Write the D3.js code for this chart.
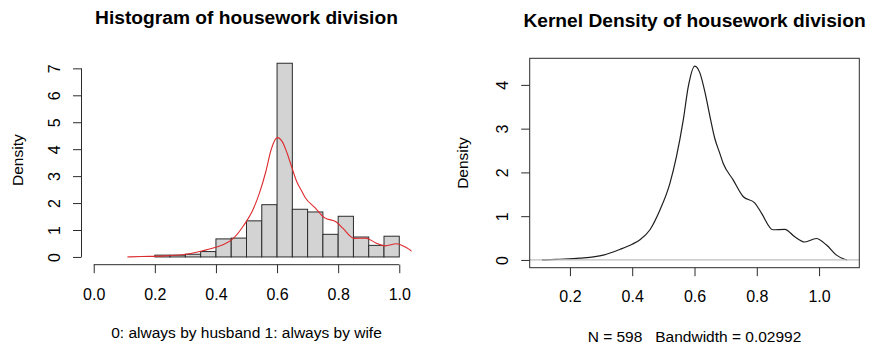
<!DOCTYPE html>
<html>
<head>
<meta charset="utf-8">
<script src="https://cdn.jsdelivr.net/npm/d3@7"></script>
<style>
  body { margin: 0; background: #fff; }
  text { font-family: Arial, "Liberation Sans", sans-serif; fill: #000; }
  .title { font-weight: bold; font-size: 19.2px; }
  .tick text { font-size: 16px; }
  .lab { font-size: 15.5px; white-space: pre; }
</style>
</head>
<body>
<script>
// histogram: break points and bar densities
const histBreaks = [0.20, 0.25, 0.30, 0.35, 0.40, 0.45, 0.50, 0.55, 0.60, 0.65, 0.70, 0.75, 0.80, 0.85, 0.90, 0.95, 1.00];
const histDensity = [0.067, 0.067, 0.10, 0.20, 0.67, 0.70, 1.34, 1.94, 7.19, 1.77, 1.67, 0.84, 1.51, 0.74, 0.43, 0.77];

// kernel density estimate
const densX = [0.11, 0.157, 0.232, 0.307, 0.36, 0.40, 0.425, 0.457, 0.489, 0.521, 0.542, 0.564, 0.580, 0.601, 0.617, 0.633, 0.649, 0.665, 0.681, 0.692, 0.724, 0.756, 0.794, 0.815, 0.852, 0.890, 0.922, 0.954, 0.991, 1.024, 1.056, 1.082, 1.09];
const densY = [0.0, 0.015, 0.04, 0.11, 0.24, 0.36, 0.46, 0.69, 1.14, 1.75, 2.36, 3.2, 3.96, 4.43, 4.28, 3.85, 3.3, 2.78, 2.44, 2.21, 1.83, 1.45, 1.30, 1.07, 0.69, 0.70, 0.53, 0.41, 0.49, 0.34, 0.11, 0.015, 0.0];

// tick labels
const histXTicks = [0.0, 0.2, 0.4, 0.6, 0.8, 1.0];
const histYTicks = [0, 1, 2, 3, 4, 5, 6, 7];
const densXTicks = [0.2, 0.4, 0.6, 0.8, 1.0];
const densYTicks = [0, 1, 2, 3, 4];

const histTitle = 'Histogram of housework division';
const histXLabel = '0: always by husband 1: always by wife';
const densTitle = 'Kernel Density of housework division';
const densXLabel = 'N = 598   Bandwidth = 0.02992';

const width = 870, height = 345;
const densPts = densX.map((x, i) => ({x: x, y: densY[i]}));

// R style 4% padding on axis ranges
const pad = ext => { const w = ext[1] - ext[0]; return [ext[0] - 0.04 * w, ext[1] + 0.04 * w]; };

const svg = d3.select('body').append('svg')
    .attr('width', width)
    .attr('height', height);

svg.append('rect').attr('width', width).attr('height', height).attr('fill', '#fff');

// panel plot regions
const left = {x0: 81.5, x1: 411.5, y0: 55.5, y1: 264.7};
const right = {x0: 529.7, x1: 859.3, y0: 58.3, y1: 267.7};

//Rotated y tick labels like R's las=0
const styleYAxis = function(g) {
    g.selectAll('.tick text')
        .attr('transform', 'rotate(-90)')
        .attr('x', 0)
        .attr('y', -21.5)
        .attr('dy', 0)
        .style('text-anchor', 'middle');
};

//---------------- Left: histogram ----------------
const xL = d3.scaleLinear().domain(pad([0, 1])).range([left.x0, left.x1]);
const yL = d3.scaleLinear().domain(pad([0, d3.max(histDensity)])).range([left.y1, left.y0]);

svg.append('clipPath').attr('id', 'clipL')
  .append('rect')
    .attr('x', left.x0).attr('y', left.y0)
    .attr('width', left.x1 - left.x0).attr('height', left.y1 - left.y0);

svg.append('g').selectAll('rect.bar')
    .data(histDensity)
    .enter()
    .append('rect')
    .attr('class', 'bar')
    .attr('x', (d, i) => xL(histBreaks[i]))
    .attr('width', (d, i) => xL(histBreaks[i + 1]) - xL(histBreaks[i]))
    .attr('y', d => yL(d))
    .attr('height', d => yL(0) - yL(d))
    .style('fill', '#d3d3d3')
    .style('stroke', '#2b2b2b')
    .style('stroke-width', 1);

svg.append('path')
    .datum(densPts)
    .attr('clip-path', 'url(#clipL)')
    .attr('fill', 'none')
    .attr('stroke', '#dc2b2e')
    .attr('stroke-width', 1.1)
    .attr('d', d3.line().x(d => xL(d.x)).y(d => yL(d.y)).curve(d3.curveMonotoneX));

const xAxisL = svg.append('g')
    .attr('transform', `translate(0, ${left.y1})`)
    .call(d3.axisBottom(xL).tickValues(histXTicks).tickFormat(d3.format('.1f')).tickSize(8.5).tickPadding(15));
xAxisL.select('.domain').remove();
xAxisL.append('line')
    .attr('x1', xL(histXTicks[0])).attr('x2', xL(histXTicks[histXTicks.length - 1]))
    .attr('stroke', '#2b2b2b');

const yAxisL = svg.append('g')
    .attr('transform', `translate(${left.x0}, 0)`)
    .call(d3.axisLeft(yL).tickValues(histYTicks).tickFormat(d3.format('d')).tickSize(8.5))
    .call(styleYAxis);
yAxisL.select('.domain').remove();
yAxisL.append('line')
    .attr('y1', yL(histYTicks[0])).attr('y2', yL(histYTicks[histYTicks.length - 1]))
    .attr('stroke', '#2b2b2b');

svg.append('text').attr('class', 'title')
    .attr('x', (left.x0 + left.x1) / 2).attr('y', 24)
    .style('text-anchor', 'middle')
    .text(histTitle);

svg.append('text').attr('class', 'lab')
    .attr('x', (left.x0 + left.x1) / 2).attr('y', 338)
    .style('text-anchor', 'middle')
    .text(histXLabel);

svg.append('text').attr('class', 'lab')
    .attr('transform', `translate(22.7, ${(left.y0 + left.y1) / 2}) rotate(-90)`)
    .style('text-anchor', 'middle')
    .text('Density');

//---------------- Right: kernel density ----------------
const xR = d3.scaleLinear().domain(pad(d3.extent(densX))).range([right.x0, right.x1]);
const yR = d3.scaleLinear().domain(pad([0, d3.max(densY)])).range([right.y1, right.y0]);

svg.append('path')
    .datum(densPts)
    .attr('fill', 'none')
    .attr('stroke', '#1e1e1e')
    .attr('stroke-width', 1.2)
    .attr('d', d3.line().x(d => xR(d.x)).y(d => yR(d.y)).curve(d3.curveMonotoneX));

// gray zero line drawn over the curve
svg.append('line')
    .attr('x1', right.x0).attr('x2', right.x1)
    .attr('y1', yR(0)).attr('y2', yR(0))
    .attr('stroke', '#bebebe')
    .attr('stroke-width', 1.2);

svg.append('rect')
    .attr('x', right.x0).attr('y', right.y0)
    .attr('width', right.x1 - right.x0).attr('height', right.y1 - right.y0)
    .attr('fill', 'none')
    .attr('stroke', '#2b2b2b');

const xAxisR = svg.append('g')
    .attr('transform', `translate(0, ${right.y1})`)
    .call(d3.axisBottom(xR).tickValues(densXTicks).tickFormat(d3.format('.1f')).tickSize(8.5).tickPadding(14));
xAxisR.select('.domain').remove();

const yAxisR = svg.append('g')
    .attr('transform', `translate(${right.x0}, 0)`)
    .call(d3.axisLeft(yR).tickValues(densYTicks).tickFormat(d3.format('d')).tickSize(8.5))
    .call(styleYAxis);
yAxisR.select('.domain').remove();

svg.append('text').attr('class', 'title')
    .attr('x', (right.x0 + right.x1) / 2).attr('y', 27.3)
    .style('text-anchor', 'middle')
    .text(densTitle);

svg.append('text').attr('class', 'lab')
    .attr('x', (right.x0 + right.x1) / 2).attr('y', 341.5)
    .style('text-anchor', 'middle')
    .text(densXLabel);

svg.append('text').attr('class', 'lab')
    .attr('transform', `translate(468, ${(right.y0 + right.y1) / 2}) rotate(-90)`)
    .style('text-anchor', 'middle')
    .text('Density');

svg.selectAll('.tick line').attr('stroke', '#2b2b2b');
svg.selectAll('.tick text').style('fill', '#000');
</script>
</body>
</html>
